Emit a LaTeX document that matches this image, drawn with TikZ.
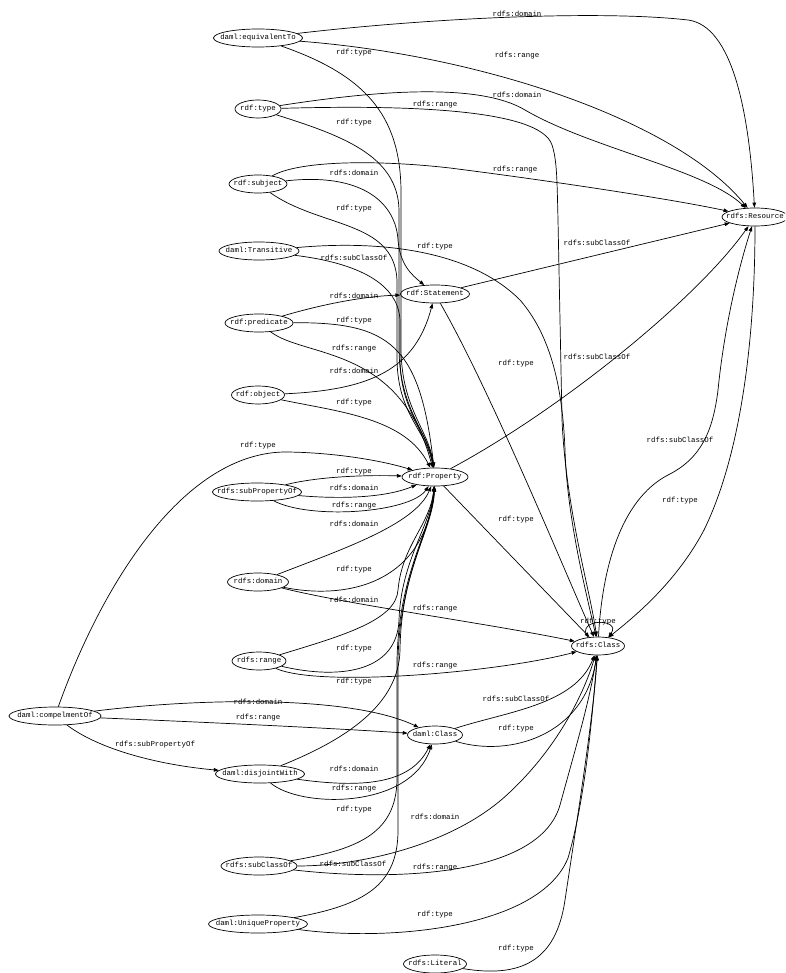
\documentclass[tikz,border=0pt]{standalone}
\usepackage{fontspec}
\setmonofont{Liberation Mono}
\usetikzlibrary{shapes.geometric,arrows.meta}
\begin{document}
\begin{tikzpicture}[x=1pt,y=-1pt,
  nd/.style={ellipse, draw, line width=0.7pt, inner xsep=-15pt, inner ysep=-2pt,
     minimum height=18pt, text height=5pt, text depth=1.5pt,
     font=\ttfamily\fontsize{7.4}{9}\selectfont},
  e/.style={line width=0.7pt, -{Triangle[length=5pt,width=3.6pt]}},
  lb/.style={inner sep=0pt, font=\ttfamily\fontsize{7.4}{9}\selectfont}]
\useasboundingbox (0,0) rectangle (785,973);
\clip (0,0) rectangle (785,973);
% nodes
\node[nd, minimum width=89pt] (EQ) at (258,38) {daml:equivalentTo};
\node[nd, minimum width=46pt] (TY) at (258,109) {rdf:type};
\node[nd, minimum width=58pt] (SU) at (258,184) {rdf:subject};
\node[nd, minimum width=80pt] (TR) at (259,251) {daml:Transitive};
\node[nd, minimum width=68pt] (PR) at (259,323) {rdf:predicate};
\node[nd, minimum width=53pt] (OB) at (258,395) {rdf:object};
\node[nd, minimum width=69pt] (ST) at (435,294) {rdf:Statement};
\node[nd, minimum width=66pt] (PP) at (435,477) {rdf:Property};
\node[nd, minimum width=89pt] (SP) at (257,492) {rdfs:subPropertyOf};
\node[nd, minimum width=61pt] (DO) at (258,582) {rdfs:domain};
\node[nd, minimum width=54pt] (RA) at (259,661) {rdfs:range};
\node[nd, minimum width=66pt] (RES) at (755,217) {rdfs:Resource};
\node[nd, minimum width=53pt] (CL) at (598,646) {rdfs:Class};
\node[nd, minimum width=92pt] (CO) at (55,716) {daml:compelmentOf};
\node[nd, minimum width=55pt] (DC) at (435,735) {daml:Class};
\node[nd, minimum width=89pt] (DJ) at (260,774) {daml:disjointWith};
\node[nd, minimum width=76pt] (SC) at (259,866) {rdfs:subClassOf};
\node[nd, minimum width=99pt] (UP) at (258,924) {daml:UniqueProperty};
\node[nd, minimum width=63pt] (LI) at (435,964) {rdfs:Literal};
% edges
\draw[e] (EQ) .. controls (430,18) and (600,10) .. (688,20) .. controls (732,26) and (749,110) .. (RES);
\draw[e] (EQ) .. controls (480,55) and (676,120) .. (RES);
\draw[e] (EQ) .. controls (365,75) and (400,115) .. (401,190) -- (401,350) .. controls (402,410) and (429,430) .. (PP);
\draw[e] (TY) .. controls (380,90) and (480,83) .. (525,110) .. controls (590,148) and (706,170) .. (RES);
\draw[e] (TY) .. controls (400,105) and (540,108) .. (552,145) .. controls (557,160) and (557,180) .. (558,220) -- (562,420) .. controls (566,510) and (590,590) .. (CL);
\draw[e] (TY) .. controls (340,135) and (398,155) .. (399,210) -- (399,350) .. controls (400,410) and (427,430) .. (PP);
\draw[e] (SU) .. controls (300,160) and (380,160) .. (450,168) .. controls (560,182) and (676,200) .. (RES);
\draw[e] (SU) .. controls (365,172) and (396,205) .. (398,240) .. controls (400,265) and (412,275) .. (ST);
\draw[e] (SU) .. controls (320,228) and (394,220) .. (397,280) -- (397,360) .. controls (398,415) and (426,430) .. (PP);
\draw[e] (TR) .. controls (380,240) and (470,250) .. (520,300) .. controls (555,340) and (563,400) .. (565,450) .. controls (567,520) and (588,600) .. (CL);
\draw[e] (TR) .. controls (350,262) and (398,280) .. (400,320) -- (400,360) .. controls (401,415) and (428,430) .. (PP);
\draw[e] (PR) .. controls (330,302) and (370,296) .. (ST);
\draw[e] (PR) .. controls (390,322) and (420,345) .. (PP);
\draw[e] (PR) .. controls (305,358) and (400,345) .. (PP);
\draw[e] (OB) .. controls (370,390) and (415,370) .. (ST);
\draw[e] (OB) .. controls (340,412) and (405,418) .. (PP);
\draw[e] (CO) .. controls (100,590) and (180,455) .. (283,452) .. controls (330,452) and (380,460) .. (PP);
\draw[e] (SP) .. controls (320,476) and (370,475) .. (PP);
\draw[e] (SP) .. controls (350,500) and (390,496) .. (PP);
\draw[e] (SP) .. controls (310,520) and (410,513) .. (PP);
\draw[e] (DO) .. controls (340,550) and (415,525) .. (PP);
\draw[e] (DO) .. controls (345,600) and (425,585) .. (PP);
\draw[e] (DO) .. controls (350,605) and (480,622) .. (CL);
\draw[e] (RA) .. controls (345,635) and (396,620) .. (398,590) .. controls (402,545) and (430,525) .. (PP);
\draw[e] (RA) .. controls (340,680) and (397,672) .. (399,620) .. controls (401,560) and (431,525) .. (PP);
\draw[e] (RA) .. controls (320,688) and (500,672) .. (CL);
\draw[e] (DJ) .. controls (345,740) and (399,705) .. (400,650) .. controls (401,570) and (432,530) .. (PP);
\draw[e] (CO) .. controls (200,698) and (350,695) .. (DC);
\draw[e] (CO) .. controls (200,722) and (330,728) .. (DC);
\draw[e] (CO) .. controls (100,750) and (160,765) .. (DJ);
\draw[e] (DJ) .. controls (360,788) and (410,785) .. (DC);
\draw[e] (DJ) .. controls (300,808) and (410,810) .. (DC);
\draw[e] (SC) .. controls (355,850) and (396,835) .. (397,780) -- (397,660) .. controls (399,570) and (432,530) .. (PP);
\draw[e] (UP) .. controls (365,905) and (398,885) .. (398,830) -- (398,660) .. controls (400,570) and (433,530) .. (PP);
\draw[e] (SC) .. controls (360,866) and (455,845) .. (510,792) .. controls (560,745) and (585,690) .. (CL);
\draw[e] (SC) .. controls (400,882) and (540,875) .. (560,805) .. controls (575,750) and (590,700) .. (CL);
\draw[e] (UP) .. controls (390,942) and (540,928) .. (568,858) .. controls (585,800) and (592,720) .. (CL);
\draw[e] (LI) .. controls (520,978) and (556,962) .. (565,900) .. controls (577,820) and (593,720) .. (CL);
\draw[e] (DC) .. controls (505,712) and (575,705) .. (CL);
\draw[e] (DC) .. controls (510,758) and (585,735) .. (CL);
\draw[e] (ST) -- (RES);
\draw[e] (ST) .. controls (490,390) and (560,560) .. (CL);
\draw[e] (PP) .. controls (560,410) and (696,300) .. (RES);
\draw[e] (PP) -- (CL);
\draw[e] (CL.140) .. controls (575,618) and (622,618) .. (CL.40);
\draw[e] (CL) .. controls (602,570) and (620,500) .. (668,475) .. controls (702,458) and (713,430) .. (718,390) .. controls (725,320) and (741,260) .. (RES);
\draw[e] (RES) .. controls (755,330) and (743,450) .. (704,530) .. controls (675,585) and (630,620) .. (CL);
% labels
\node[lb] (l1) at (517,14) {rdfs:domain};
\node[lb] (l2) at (517,56) {rdfs:range};
\node[lb] (l3) at (354,53) {rdf:type};
\node[lb] (l4) at (517,95) {rdfs:domain};
\node[lb] (l5) at (435,105) {rdfs:range};
\node[lb] (l6) at (354,123) {rdf:type};
\node[lb] (l7) at (515,170) {rdfs:range};
\node[lb] (l8) at (354,173) {rdfs:domain};
\node[lb] (l9) at (354,209) {rdf:type};
\node[lb] (l10) at (435,247) {rdf:type};
\node[lb] (l11) at (354,258) {rdfs:subClassOf};
\node[lb] (l12) at (597,243) {rdfs:subClassOf};
\node[lb] (l13) at (354,296) {rdfs:domain};
\node[lb] (l14) at (354,321) {rdf:type};
\node[lb] (l15) at (354,349) {rdfs:range};
\node[lb] (l16) at (354,371) {rdfs:domain};
\node[lb] (l17) at (354,403) {rdf:type};
\node[lb] (l18) at (516,364) {rdf:type};
\node[lb] (l19) at (597,357) {rdfs:subClassOf};
\node[lb] (l20) at (258,446) {rdf:type};
\node[lb] (l21) at (354,472) {rdf:type};
\node[lb] (l22) at (354,488) {rdfs:domain};
\node[lb] (l23) at (354,506) {rdfs:range};
\node[lb] (l24) at (354,524) {rdfs:domain};
\node[lb] (l25) at (354,570) {rdf:type};
\node[lb] (l26) at (354,600) {rdfs:domain};
\node[lb] (l27) at (435,609) {rdfs:range};
\node[lb] (l28) at (354,649) {rdf:type};
\node[lb] (l29) at (435,666) {rdfs:range};
\node[lb] (l30) at (354,682) {rdf:type};
\node[lb] (l31) at (516,520) {rdf:type};
\node[lb] (l32) at (680,501) {rdf:type};
\node[lb] (l33) at (680,440) {rdfs:subClassOf};
\node[lb] (l34) at (598,622) {rdf:type};
\node[lb] (l35) at (258,702) {rdfs:domain};
\node[lb] (l36) at (258,718) {rdfs:range};
\node[lb] (l37) at (155,745) {rdfs:subPropertyOf};
\node[lb] (l38) at (516,699) {rdfs:subClassOf};
\node[lb] (l39) at (516,729) {rdf:type};
\node[lb] (l40) at (354,769) {rdfs:domain};
\node[lb] (l41) at (354,789) {rdfs:range};
\node[lb] (l42) at (354,810) {rdf:type};
\node[lb] (l43) at (435,817) {rdfs:domain};
\node[lb] (l44) at (353,864) {rdfs:subClassOf};
\node[lb] (l45) at (435,868) {rdfs:range};
\node[lb] (l46) at (435,915) {rdf:type};
\node[lb] (l47) at (516,949) {rdf:type};
\end{tikzpicture}
\end{document}
